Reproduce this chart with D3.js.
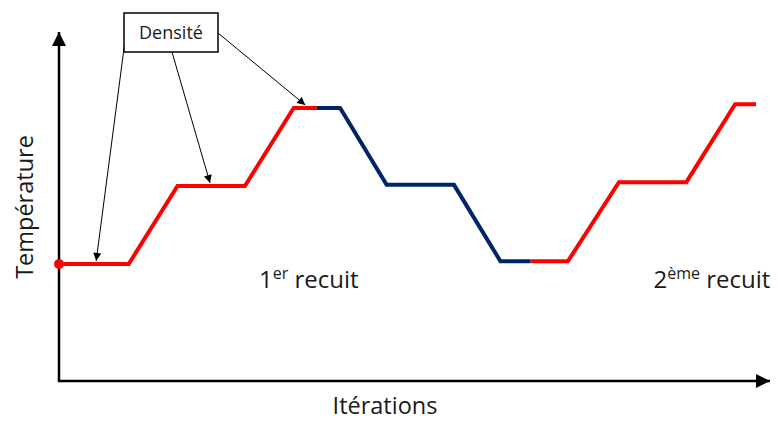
<!DOCTYPE html>
<html>
<head>
<meta charset="utf-8">
<script src="https://cdn.jsdelivr.net/npm/d3@7/dist/d3.min.js"></script>
<style>
  html, body { margin: 0; padding: 0; background: #fff; }
  svg { display: block; }
  text { font-family: "Open Sans", sans-serif; fill: #1a1a1a; }
</style>
</head>
<body>
<svg id="chart" width="779" height="421"></svg>
<script>
// ---- data (iterations, temperature) ----
const iterations   = [0, 3, 5.1, 8, 10.1, 11.1, 12.1, 14.1, 17.0, 19.0, 20.3, 21.9, 24.1, 27.0, 29.1, 30.0];
const temperatures = [3, 3, 5, 5, 7,    7,    7,    5.03, 5.03, 3.07, 3.07, 3.07, 5.1,  5.1,  7.1,  7.1];
// phase breakpoints (iteration) and colours: heating / cooling / heating
const phaseStarts  = [0, 11.1, 20.3];
const phaseEnds    = [11.1, 20.3, 30.0];
const phaseTypes   = ["chauffe", "refroidissement", "chauffe"];
const phaseLabels  = [{ text: "1", sup: "er",  rest: " recuit", it: 10.75, t: 2.38 },
                      { text: "2", sup: "ème", rest: " recuit", it: 28.1, t: 2.38 }];
// "Densité" arrow targets (iteration, temperature)
const densityTargets = [[1.6, 3], [6.5, 5], [10.6, 7]];

const colors = { chauffe: "#ff0000", refroidissement: "#002468" };

const svg = d3.select("#chart");
const x = d3.scaleLinear().domain([0, 30.6]).range([59, 770]);
const y = d3.scaleLinear().domain([0, 8.95]).range([381, 32]);

const pts = iterations.map((d, i) => ({ it: d, t: temperatures[i] }));

// interpolate temperature at an iteration value (for splitting the path by phase)
function tempAt(it) {
  for (let i = 0; i < pts.length - 1; i++) {
    const a = pts[i], b = pts[i + 1];
    if (it >= a.it && it <= b.it) {
      return a.t + (b.t - a.t) * (b.it === a.it ? 0 : (it - a.it) / (b.it - a.it));
    }
  }
  return pts[pts.length - 1].t;
}
function segment(s, e) {
  const arr = [{ it: s, t: tempAt(s) }];
  pts.forEach(p => { if (p.it > s && p.it < e) arr.push(p); });
  arr.push({ it: e, t: tempAt(e) });
  return arr;
}

const line = d3.line().x(d => x(d.it)).y(d => y(d.t));

// defs: arrow markers
const defs = svg.append("defs");
defs.append("marker").attr("id", "axArrow")
  .attr("viewBox", "0 0 10 10").attr("refX", 10).attr("refY", 5)
  .attr("markerWidth", 14).attr("markerHeight", 14).attr("markerUnits", "userSpaceOnUse")
  .attr("orient", "auto")
  .append("path").attr("d", "M0,0 L10,5 L0,10 Z").attr("fill", "#000");
defs.append("marker").attr("id", "smArrow")
  .attr("viewBox", "0 0 10 10").attr("refX", 10).attr("refY", 5)
  .attr("markerWidth", 9).attr("markerHeight", 8).attr("markerUnits", "userSpaceOnUse")
  .attr("orient", "auto")
  .append("path").attr("d", "M0,0 L10,5 L0,10 Z").attr("fill", "#000");

// axes
const x0 = x.range()[0], xEnd = x.range()[1];
const y0 = y.range()[0], yTop = y.range()[1];
svg.append("line").attr("x1", x0).attr("y1", y0 + 1).attr("x2", x0).attr("y2", yTop)
  .attr("stroke", "#000").attr("stroke-width", 2.5).attr("marker-end", "url(#axArrow)");
svg.append("line").attr("x1", x0 - 1).attr("y1", y0).attr("x2", xEnd).attr("y2", y0)
  .attr("stroke", "#000").attr("stroke-width", 2.5).attr("marker-end", "url(#axArrow)");

// the temperature line, split by phase
phaseStarts.forEach((s, i) => {
  svg.append("path").datum(segment(s, phaseEnds[i]))
    .attr("d", line).attr("fill", "none")
    .attr("stroke", colors[phaseTypes[i]]).attr("stroke-width", 4)
    .attr("stroke-linejoin", "miter");
});
svg.append("circle").attr("cx", x(pts[0].it)).attr("cy", y(pts[0].t)).attr("r", 5)
  .attr("fill", colors.chauffe);

// axis titles
svg.append("text").attr("x", 385).attr("y", 414).attr("text-anchor", "middle")
  .attr("font-size", 23.5).text("Itérations");
svg.append("text").attr("transform", "translate(33,207) rotate(-90)")
  .attr("text-anchor", "middle").attr("font-size", 23.5).text("Température");

// phase labels
phaseLabels.forEach(l => {
  const t = svg.append("text").attr("x", x(l.it)).attr("y", y(l.t))
    .attr("text-anchor", "middle").attr("font-size", 24);
  t.append("tspan").text(l.text);
  t.append("tspan").attr("font-size", 16).attr("dy", -9).text(l.sup);
  t.append("tspan").attr("dy", 9).text(l.rest);
});

// Densité box and arrows
const box = { x: 124, y: 13, w: 94, h: 39 };
const starts = [[126, 33], [172, 52], [218, 33]];
densityTargets.forEach((d, i) => {
  svg.append("line").attr("x1", starts[i][0]).attr("y1", starts[i][1])
    .attr("x2", x(d[0])).attr("y2", y(d[1]) - 3)
    .attr("stroke", "#000").attr("stroke-width", 1)
    .attr("marker-end", "url(#smArrow)");
});
svg.append("rect").attr("x", box.x).attr("y", box.y).attr("width", box.w).attr("height", box.h)
  .attr("fill", "#fff").attr("stroke", "#000").attr("stroke-width", 1.5);
svg.append("text").attr("x", box.x + box.w / 2).attr("y", box.y + 26)
  .attr("text-anchor", "middle").attr("font-size", 18).text("Densité");
</script>
</body>
</html>
